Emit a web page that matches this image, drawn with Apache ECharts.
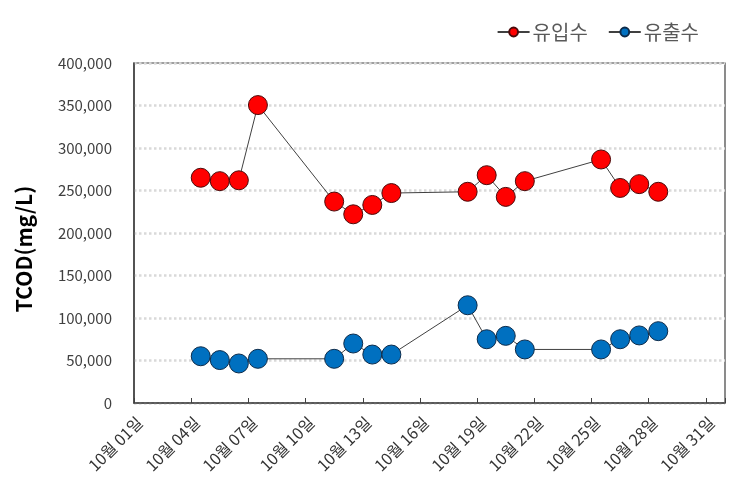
<!DOCTYPE html>
<html>
<head>
<meta charset="utf-8">
<script src="https://cdn.jsdelivr.net/npm/echarts@6/dist/echarts.min.js"></script>
<style>html,body{margin:0;padding:0;background:#fff}#c{width:748px;height:496px}</style>
</head>
<body>
<div id="c"></div>
<script>
// Sampling days in October (samples taken at midday)
const days = [4, 5, 6, 7, 11, 12, 13, 14, 18, 19, 20, 21, 25, 26, 27, 28];
const influent = [265000, 261000, 262000, 350500, 237000, 222000, 233000, 247000, 248500, 268000, 242500, 261000, 286500, 253000, 257500, 248500];
const effluent = [55000, 50500, 46500, 52000, 52000, 70000, 57000, 57000, 115000, 75000, 79000, 63000, 63000, 75000, 79500, 84500];
const seriesNames = ['유입수', '유출수'];
const yTitle = 'TCOD(mg/L)';

const font = '"Noto Sans CJK KR", "Noto Sans", sans-serif';
const pad = n => (n < 10 ? '0' : '') + n;
const toPairs = vals => vals.map((v, i) => [days[i] - 0.5, v]);

const chart = echarts.init(document.getElementById('c'));
chart.setOption({
  animation: false,
  textStyle: { fontFamily: font },
  legend: {
    right: 44, top: 17, itemWidth: 32, itemHeight: 11, itemGap: 20,
    textStyle: { fontSize: 20, color: '#595959', fontFamily: font, padding: [0, 0, 0, -2] },
    data: seriesNames
  },
  grid: { left: 134, right: 23, top: 63, bottom: 93, show: true, borderColor: '#404040', borderWidth: 1.2 },
  xAxis: {
    type: 'value', min: 0, max: 31, interval: 3,
    axisLine: { show: true, lineStyle: { color: '#404040', width: 1.5 } },
    axisTick: { show: true, inside: true, length: 5, lineStyle: { color: '#404040' } },
    splitLine: { show: false },
    axisLabel: {
      rotate: 45, fontSize: 16, color: '#333', margin: 11, fontFamily: font,
      verticalAlign: 'top',
      formatter: v => (v % 3 === 0 && v <= 30) ? '10월 ' + pad(v + 1) + '일' : ''
    }
  },
  yAxis: {
    type: 'value', min: 0, max: 400000, interval: 50000,
    name: yTitle, nameLocation: 'middle', nameGap: 99, nameRotate: 90,
    nameTextStyle: { fontSize: 21, fontWeight: 'bold', color: '#000', fontFamily: font, padding: [0, 32, 0, 0] },
    axisLine: { show: true, lineStyle: { color: '#404040', width: 1.5 } },
    axisTick: { show: false },
    splitLine: { show: true, lineStyle: { color: '#d9d9d9', type: 'dotted', width: 2.5 } },
    axisLabel: {
      fontSize: 15, color: '#404040', margin: 22, fontFamily: font,
      formatter: v => v.toLocaleString('en-US')
    }
  },
  series: [
    {
      name: seriesNames[0], type: 'line', data: toPairs(influent),
      symbol: 'circle', symbolSize: 19,
      lineStyle: { color: '#404040', width: 1 },
      itemStyle: { color: '#ff0000', borderColor: '#4a0a0a', borderWidth: 1 },
      z: 3
    },
    {
      name: seriesNames[1], type: 'line', data: toPairs(effluent),
      symbol: 'circle', symbolSize: 19,
      lineStyle: { color: '#404040', width: 1 },
      itemStyle: { color: '#0070c0', borderColor: '#0d2b4a', borderWidth: 1 },
      z: 3
    }
  ]
});
</script>
</body>
</html>
